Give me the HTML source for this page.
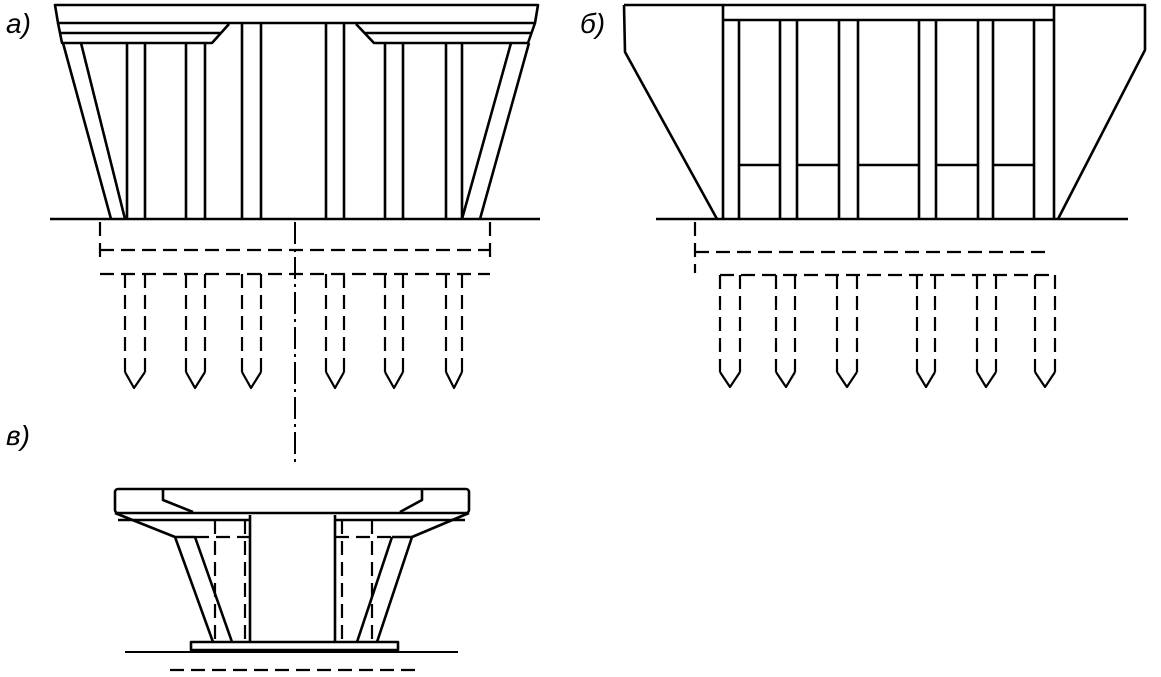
<!DOCTYPE html>
<html><head><meta charset="utf-8"><style>
html,body{margin:0;padding:0;background:#fff;}
svg{display:block;}
text{font-family:"Liberation Sans",sans-serif;font-style:italic;font-size:28px;fill:#000;}
</style></head><body>
<svg width="1161" height="677" viewBox="0 0 1161 677" xmlns="http://www.w3.org/2000/svg">
<g fill="none" stroke="#000" stroke-width="2.6" stroke-linejoin="round">
<!-- Panel a -->
<path d="M55,5 L538,5 L535,23 L58,23 Z"/>
<path d="M58,23 L62,43 L212,43 L229,24"/>
<path d="M60,33 L220,33"/>
<path d="M356,24 L374,43 L528,43 L535,23"/>
<path d="M364,33 L532,33"/>
<path d="M63,43 L111,219 M81,43 L125,219"/>
<path d="M529,43 L480,219 M511,43 L462,219"/>
<path d="M127,43 V219 M145,43 V219 M186,43 V219 M205,43 V219"/>
<path d="M242,24 V219 M261,24 V219 M326,23 V219 M344,23 V219"/>
<path d="M385,43 V219 M403,43 V219 M446,43 V219 M462,43 V219"/>
<path d="M50,219 H540"/>
<!-- Panel b -->
<path d="M624,5 L1145,5 L1145,50 L1058,219 M624,5 L625,52 L717,219"/>
<path d="M723,5 V219 M1054,5 V219 M723,20 H1054"/>
<path d="M739,20 V219 M780,20 V219 M797,20 V219 M839,20 V219 M858,20 V219 M919,20 V219 M936,20 V219 M978,20 V219 M993,20 V219 M1034,20 V219"/>
<path d="M739,165 H780 M797,165 H839 M858,165 H919 M936,165 H978 M993,165 H1034"/>
<path d="M656,219 H1128"/>
<!-- Panel c -->
<rect x="115" y="489" width="354" height="24" rx="3"/>
<path d="M163,490 V500 L193,512 M422,490 V500 L400,512"/>
<path d="M115,513 L175,537 L195,537 M469,513 L412,537 L392,537"/>
<path d="M118,520 H250 M335,520 H465"/>
<path d="M175,537 L213,642 M195,537 L232,642 M392,537 L357,642 M412,537 L377,642"/>
<path d="M250,515 V642 M335,515 V642"/>
<rect x="191" y="642" width="207" height="8"/>
<path d="M125,652 H458" stroke-width="2"/>
<!-- pile tips -->
<path d="M125,372 L134,388 L145,372 M186,372 L195,388 L205,372 M242,372 L251,388 L261,372 M326,372 L335,388 L344,372 M385,372 L394,388 L403,372 M446,372 L454,388 L462,372" stroke-width="2.2"/>
<path d="M720,372 L730,387 L740,372 M776,372 L786,387 L795,372 M837,372 L847,387 L857,372 M917,372 L926,387 L935,372 M977,372 L986,387 L996,372 M1035,372 L1045,387 L1055,372" stroke-width="2.2"/>
</g>
<g fill="none" stroke="#000" stroke-width="2.2" stroke-dasharray="14,7">
<!-- a dashed -->
<path d="M100,222 V262 M490,222 V262 M100,250 H490 M100,274 H490"/>
<path d="M125,274 V372 M145,274 V372 M186,274 V372 M205,274 V372 M242,274 V372 M261,274 V372 M326,274 V372 M344,274 V372 M385,274 V372 M403,274 V372 M446,274 V372 M462,274 V372"/>
<!-- b dashed -->
<path d="M695,222 V273 M695,252 H1050 M720,275 H1055"/>
<path d="M720,275 V372 M740,275 V372 M776,275 V372 M795,275 V372 M837,275 V372 M857,275 V372 M917,275 V372 M935,275 V372 M977,275 V372 M996,275 V372 M1035,275 V372 M1055,275 V372"/>
<!-- c dashed -->
<path d="M215,520 V642 M245,520 V642 M342,520 V642 M372,520 V642"/>
<path d="M195,537 H250 M335,537 H392"/>
<path d="M170,670 H420"/>
</g>
<path d="M295,222 V465" stroke="#000" stroke-width="2" stroke-dasharray="22,5,3,5" fill="none"/>
<text x="6" y="33">а)</text>
<text x="580" y="33">б)</text>
<text x="6" y="445">в)</text>
</svg>
</body></html>
